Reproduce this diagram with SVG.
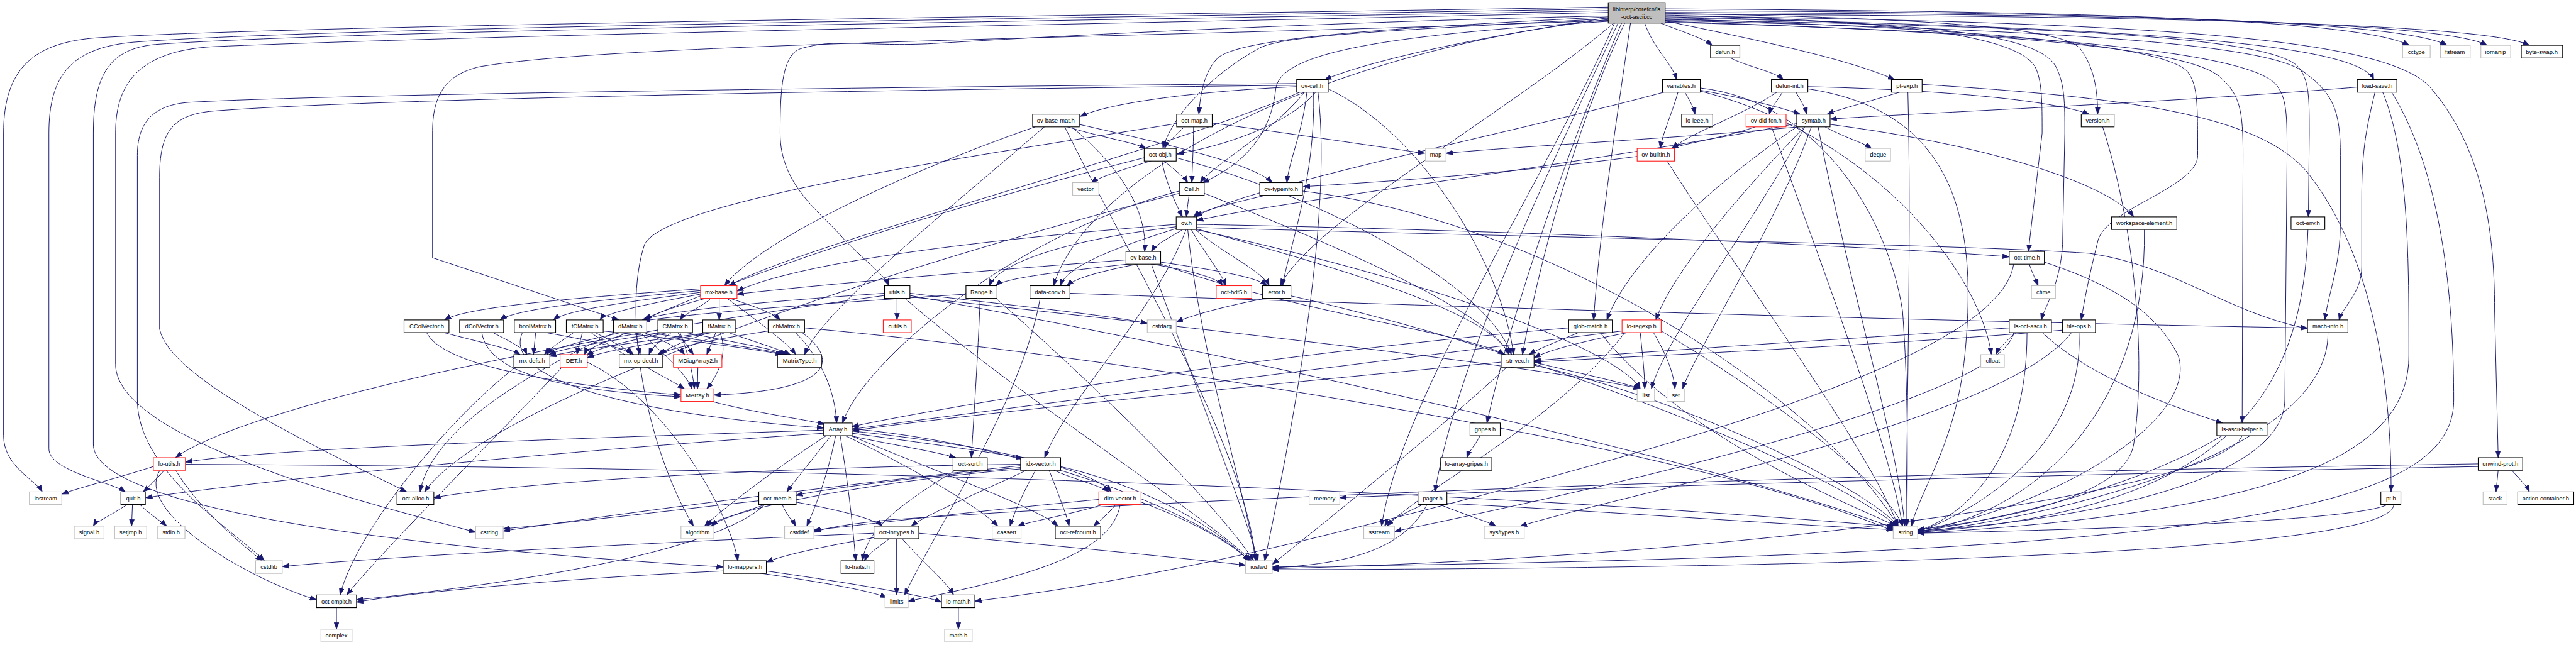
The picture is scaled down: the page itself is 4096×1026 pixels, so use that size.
<svg xmlns="http://www.w3.org/2000/svg" width="4096" height="1026" viewBox="0 0 4096 1026">
<style>
.b{fill:#fff;stroke:#000;stroke-width:1.6}
.g{fill:#fff;stroke:#bfbfbf;stroke-width:1.6}
.r{fill:#fff;stroke:#ff2020;stroke-width:1.6}
.root{fill:#bfbfbf;stroke:#000;stroke-width:1.6}
text{font-family:"Liberation Sans",Arial,Helvetica,sans-serif;font-size:13.3px;text-anchor:middle;fill:#000}
#edges path{fill:none;stroke:#191970;stroke-width:1.4;marker-end:url(#ah)}
</style>
<defs>
<marker id="ah" markerUnits="userSpaceOnUse" markerWidth="16" markerHeight="12" refX="15" refY="6" orient="auto">
<path d="M0,0.5 L15,6 L0,11.5 z" fill="#191970" stroke="#191970" stroke-width="1"/>
</marker>
</defs>
<rect width="4096" height="1026" fill="#fff"/>
<g transform="scale(0.706816)">
<g id="edges">
<path d="M3736,52 C3780,70 3830,85 3852,102"/>
<path d="M3746,20 C4600,25 5300,40 5420,102"/>
<path d="M3746,24 C4700,28 5400,45 5505,102"/>
<path d="M3746,28 C4800,32 5500,50 5595,102"/>
<path d="M3746,32 C4900,36 5600,55 5690,102"/>
<path d="M3746,40 C4700,60 5300,90 5340,179"/>
<path d="M3746,36 C4900,50 5380,90 5470,200 C5580,330 5612,500 5612,700 L5620,1030"/>
<path d="M3746,44 C4600,60 5100,80 5170,150 C5195,180 5195,220 5195,300 L5193,488"/>
<path d="M3746,46 C4500,65 5080,90 5180,160 C5250,210 5265,250 5265,350 L5265,500 C5265,600 5240,650 5230,720"/>
<path d="M3746,48 C4400,70 4900,100 4990,170 C5040,210 5046,250 5046,350 L5044,952"/>
<path d="M3746,50 C4500,70 5050,110 5120,190 C5145,220 5145,260 5145,350 L5140,900 C5138,1080 4700,1170 4314,1195"/>
<path d="M3746,42 C4300,60 4850,90 4920,160 C4944,190 4944,230 4944,350 C4944,420 4740,470 4720,540 C4700,620 4690,670 4682,720"/>
<path d="M3746,38 C4300,50 4580,70 4625,150 C4645,190 4645,230 4645,300 L4640,550 C4635,640 4600,690 4592,720"/>
<path d="M3746,34 C4200,45 4530,70 4578,150 C4594,180 4594,230 4594,300 L4563,566"/>
<path d="M3746,30 C4300,40 4640,60 4680,110 C4710,150 4719,200 4719,257"/>
<path d="M3746,47 C3950,90 4150,130 4262,179"/>
<path d="M3700,52 C3720,110 3760,140 3772,179"/>
<path d="M3668,52 C3640,250 3600,500 3585,720"/>
<path d="M3655,52 C3560,250 3470,550 3425,798"/>
<path d="M3648,52 C3540,300 3400,700 3345,952"/>
<path d="M3640,52 C3500,350 3280,800 3228,1107"/>
<path d="M3632,52 C3480,400 3150,900 3108,1184"/>
<path d="M3630,52 C3400,250 2950,500 2880,643"/>
<path d="M3618,40 C3350,80 3100,130 2980,179"/>
<path d="M3618,38 C3200,60 2800,80 2740,130 C2710,160 2700,210 2697,257"/>
<path d="M3618,42 C3100,70 2880,80 2830,110 C2740,160 2640,250 2616,334"/>
<path d="M3618,48 C3100,80 2880,120 2870,200 C2860,300 2800,370 2705,411"/>
<path d="M3618,44 C3000,110 2450,380 2370,643"/>
<path d="M3618,36 C3000,48 2300,85 2100,98 C1950,106 1880,85 1800,110 C1760,125 1755,200 1755,300 C1755,420 1850,480 1900,540 C1960,600 1990,620 2000,643"/>
<path d="M3618,16 C2500,35 700,55 220,85 C80,95 8,150 8,300 L8,980 C8,1050 80,1080 95,1107"/>
<path d="M3618,20 C2500,40 750,60 300,95 C160,108 110,170 110,300 L110,1010 C110,1060 250,1085 282,1107"/>
<path d="M3618,24 C2600,45 850,65 350,100 C245,110 210,170 210,300 L210,1000 C210,1120 700,1220 1627,1276"/>
<path d="M3618,28 C2700,50 1200,75 480,105 C300,115 260,200 260,300 L260,820 C260,1000 900,1150 1070,1198"/>
<path d="M3618,46 C2600,85 1400,95 1080,150 C990,170 973,230 973,300 L973,580 L1392,720"/>
<path d="M3892,130 C3930,150 3990,160 4012,179"/>
<path d="M4010,207 C4000,225 3985,240 3980,257"/>
<path d="M4040,207 C4050,225 4060,240 4065,257"/>
<path d="M3998,207 C3920,260 3800,300 3762,334"/>
<path d="M4067,195 C4300,200 4600,220 4700,257"/>
<path d="M4067,200 C4400,250 4450,500 4420,800 C4400,1000 4320,1100 4300,1184"/>
<path d="M3790,207 C3800,225 3810,240 3813,257"/>
<path d="M3775,207 C3760,260 3740,300 3735,334"/>
<path d="M3825,203 C3920,220 4000,240 4050,257"/>
<path d="M3745,207 C3400,300 2800,420 2690,488"/>
<path d="M3825,198 C4100,230 4250,500 4280,700 C4295,900 4290,1100 4290,1184"/>
<path d="M3825,205 C4200,300 4450,600 4480,798"/>
<path d="M4275,207 C4200,230 4140,245 4110,257"/>
<path d="M4324,190 C4800,220 5100,260 5200,400 C5350,600 5380,900 5379,1107"/>
<path d="M4292,207 C4300,500 4290,900 4288,1184"/>
<path d="M5303,196 C4900,230 4300,255 4117,268"/>
<path d="M5343,207 C5320,300 5313,350 5313,450 L5313,600 C5313,660 5270,690 5262,720"/>
<path d="M5360,207 C5420,350 5419,600 5419,800 C5419,1000 5200,1150 4314,1200"/>
<path d="M5380,207 C5500,400 5520,700 5520,900 C5520,1150 5000,1250 2862,1276"/>
<path d="M4730,285 C4800,500 4830,800 4800,1000 C4780,1120 4500,1170 4314,1192"/>
<path d="M2917,195 C2700,205 2500,230 2430,262"/>
<path d="M2960,207 C2900,280 2750,330 2648,346"/>
<path d="M2917,188 C2100,195 800,210 430,230 C340,235 309,280 309,350 L309,900 C309,1060 520,1190 595,1262"/>
<path d="M2917,192 C2150,200 850,220 480,250 C385,258 359,300 359,400 L359,740 C380,850 700,1000 915,1107"/>
<path d="M2940,207 C2930,300 2900,360 2895,411"/>
<path d="M2935,207 C2860,300 2730,370 2700,411"/>
<path d="M2955,207 C2960,400 2900,560 2885,643"/>
<path d="M2988,200 C3200,300 3380,600 3405,798"/>
<path d="M2965,207 C3000,500 2900,1000 2845,1262"/>
<path d="M2925,207 C2600,350 1800,550 1640,643"/>
<path d="M2665,285 C2650,300 2625,320 2620,334"/>
<path d="M2685,285 C2685,330 2682,380 2681,411"/>
<path d="M2727,277 C2900,300 3100,330 3205,345"/>
<path d="M2647,278 C2200,350 1500,450 1450,550 C1400,700 1450,1000 1560,1184"/>
<path d="M2400,285 C2480,310 2550,320 2578,334"/>
<path d="M2428,280 C2650,330 2820,370 2862,411"/>
<path d="M2410,285 C2550,400 2580,500 2575,566"/>
<path d="M2330,285 C2000,400 1700,550 1630,643"/>
<path d="M2350,285 C2100,500 1850,700 1810,798"/>
<path d="M2395,285 C2550,600 2800,1000 2825,1262"/>
<path d="M2590,362 C2530,380 2470,400 2455,411"/>
<path d="M2618,362 C2640,380 2665,400 2672,411"/>
<path d="M2614,362 C2620,400 2640,450 2660,488"/>
<path d="M2574,355 C2000,500 1000,800 945,1107"/>
<path d="M2646,355 C3000,450 3350,650 3400,798"/>
<path d="M2675,439 C2672,460 2670,475 2669,488"/>
<path d="M2653,430 C2300,520 1950,800 1895,952"/>
<path d="M2653,435 C2000,600 1100,900 955,1107"/>
<path d="M2709,435 C3000,550 3350,700 3395,798"/>
<path d="M2850,439 C2760,460 2700,475 2685,488"/>
<path d="M2930,430 C3500,500 4100,900 4270,1184"/>
<path d="M3683,352 C3400,390 3100,410 2932,420"/>
<path d="M3750,362 C3900,600 4200,1000 4270,1184"/>
<path d="M3950,285 C3880,310 3780,325 3760,334"/>
<path d="M3985,285 C4100,600 4250,1000 4280,1184"/>
<path d="M4105,285 C4150,310 4190,320 4210,334"/>
<path d="M4050,285 C3800,310 3400,330 3253,345"/>
<path d="M4060,285 C3950,500 3750,750 3715,875"/>
<path d="M4075,285 C4000,500 3820,780 3785,875"/>
<path d="M4090,285 C4150,600 4270,1000 4285,1184"/>
<path d="M4050,280 C3800,450 3650,620 3615,720"/>
<path d="M4060,285 C3900,450 3760,620 3725,720"/>
<path d="M4042,278 C3500,380 2900,450 2692,496"/>
<path d="M4117,280 C4500,330 4750,420 4800,488"/>
<path d="M2660,517 C2630,535 2600,550 2590,566"/>
<path d="M2680,517 C2710,570 2745,610 2758,643"/>
<path d="M2690,517 C2750,570 2840,610 2855,643"/>
<path d="M2648,510 C2400,540 2250,590 2225,643"/>
<path d="M2650,513 C2500,560 2400,600 2385,643"/>
<path d="M2646,505 C2200,540 1800,590 1658,655"/>
<path d="M2692,505 C3500,520 4300,560 4520,578"/>
<path d="M2692,512 C3700,540 4400,550 4700,570 C4900,600 5000,700 5191,740"/>
<path d="M2692,515 C3000,600 3350,700 3395,798"/>
<path d="M2668,517 C2600,700 2400,900 2350,1030"/>
<path d="M2672,517 C2700,800 2800,1100 2825,1262"/>
<path d="M2692,517 C3300,650 3650,800 3690,875"/>
<path d="M2533,585 C2200,610 1850,640 1658,662"/>
<path d="M2540,594 C2400,610 2260,625 2240,643"/>
<path d="M2560,594 C2480,610 2420,625 2400,643"/>
<path d="M2590,594 C2680,610 2740,625 2750,643"/>
<path d="M2611,590 C2750,610 2830,625 2850,643"/>
<path d="M2611,594 C2900,700 3300,750 3385,798"/>
<path d="M2590,594 C2700,900 2800,1150 2830,1262"/>
<path d="M1600,671 C1580,690 1540,705 1530,720"/>
<path d="M1618,671 L1618,720"/>
<path d="M1640,671 C1700,690 1740,705 1755,720"/>
<path d="M1635,671 C1700,720 1770,770 1790,798"/>
<path d="M1590,671 C1520,690 1470,705 1452,720"/>
<path d="M1576,650 C1300,670 1050,690 1000,720"/>
<path d="M1576,654 C1350,675 1160,695 1125,720"/>
<path d="M1576,658 C1400,680 1270,700 1245,720"/>
<path d="M1576,662 C1450,685 1360,705 1350,720"/>
<path d="M1000,749 C1080,770 1150,785 1170,798"/>
<path d="M960,749 C1000,830 1300,870 1532,889"/>
<path d="M1110,749 C1150,770 1180,785 1185,798"/>
<path d="M1084,749 C1100,850 1300,880 1532,893"/>
<path d="M1205,749 L1200,798"/>
<path d="M1230,749 C1350,770 1410,785 1420,798"/>
<path d="M1175,749 C1130,850 1400,930 1853,963"/>
<path d="M1290,749 C1260,770 1235,785 1225,798"/>
<path d="M1310,749 C1305,770 1300,785 1298,798"/>
<path d="M1340,749 C1380,770 1410,785 1425,798"/>
<path d="M1357,745 C1500,760 1700,785 1760,798"/>
<path d="M1330,749 C1400,800 1500,850 1540,875"/>
<path d="M1395,749 C1300,770 1240,785 1230,798"/>
<path d="M1410,749 C1360,770 1320,785 1315,798"/>
<path d="M1430,749 L1440,798"/>
<path d="M1455,748 C1600,770 1720,785 1765,798"/>
<path d="M1440,749 C1500,800 1550,850 1556,875"/>
<path d="M1450,749 C1500,770 1530,785 1540,798"/>
<path d="M1490,749 C1350,770 1260,785 1235,798"/>
<path d="M1500,749 C1400,770 1340,785 1320,800"/>
<path d="M1510,749 C1480,770 1465,785 1460,798"/>
<path d="M1545,749 C1650,770 1740,785 1770,798"/>
<path d="M1530,749 C1550,800 1560,850 1562,875"/>
<path d="M1525,749 L1560,798"/>
<path d="M1590,749 C1400,775 1280,790 1237,802"/>
<path d="M1600,749 C1450,775 1360,790 1321,805"/>
<path d="M1595,749 C1530,770 1500,785 1485,798"/>
<path d="M1640,749 C1700,770 1750,785 1778,798"/>
<path d="M1620,749 C1640,800 1610,850 1590,875"/>
<path d="M1610,749 L1590,798"/>
<path d="M1805,749 C1900,820 1850,880 1606,889"/>
<path d="M1790,749 C1860,820 1880,900 1882,952"/>
<path d="M1728,745 C1600,765 1500,785 1480,798"/>
<path d="M1810,738 C2500,800 3800,1000 4259,1195"/>
<path d="M1570,826 L1569,875"/>
<path d="M1600,903 C1700,930 1820,945 1855,955"/>
<path d="M1160,826 C1000,950 800,1200 765,1339"/>
<path d="M1265,826 C1100,1000 850,1250 780,1339"/>
<path d="M1321,815 C1500,900 1640,1150 1660,1262"/>
<path d="M2018,671 L2018,720"/>
<path d="M2047,660 C2300,690 2500,710 2581,728"/>
<path d="M1990,660 C1700,680 1500,700 1445,720"/>
<path d="M1990,665 C1000,800 500,950 395,1030"/>
<path d="M2047,665 C2800,800 3900,1050 4265,1190"/>
<path d="M2047,668 C2800,750 3500,830 3690,875"/>
<path d="M2035,671 C2300,900 2700,1150 2815,1262"/>
<path d="M2173,662 C1900,680 1600,700 1448,722"/>
<path d="M2205,671 C2200,800 2190,950 2185,1030"/>
<path d="M2240,671 C2500,900 2750,1150 2820,1262"/>
<path d="M2407,660 C3500,700 4700,730 5191,738"/>
<path d="M2340,671 C2300,900 2100,1200 2035,1339"/>
<path d="M2850,671 C2750,690 2680,710 2646,725"/>
<path d="M2900,665 C3500,800 4100,1050 4270,1185"/>
<path d="M4565,594 C4572,615 4580,630 4585,643"/>
<path d="M4599,590 C4750,640 4850,700 4900,800 C4950,950 4600,1150 4314,1193"/>
<path d="M4530,594 C4500,800 3800,1000 3000,1200 C2600,1300 2300,1340 2193,1353"/>
<path d="M4535,749 C4510,770 4495,785 4490,798"/>
<path d="M4520,738 C4200,760 3700,790 3451,812"/>
<path d="M4595,749 C4700,850 4900,920 5000,952"/>
<path d="M4560,749 C4560,1000 4450,1150 4314,1195"/>
<path d="M4530,749 C4500,900 3600,1100 3137,1196"/>
<path d="M4640,743 C4200,780 3700,800 3451,815"/>
<path d="M4677,749 C4690,1000 4450,1150 4314,1197"/>
<path d="M4660,749 C4500,950 3700,1100 3420,1184"/>
<path d="M5237,749 C5240,1000 4700,1150 4314,1199"/>
<path d="M3550,749 C3500,770 3460,785 3440,798"/>
<path d="M3529,738 C2800,800 2100,920 1917,960"/>
<path d="M3600,749 C3800,1000 4200,1150 4265,1184"/>
<path d="M3660,749 C3550,770 3480,790 3451,805"/>
<path d="M3690,749 C3695,800 3700,840 3700,875"/>
<path d="M3720,749 C3750,800 3765,840 3768,875"/>
<path d="M3655,749 C3500,950 3200,1100 3120,1184"/>
<path d="M3737,745 C4000,900 4250,1100 4280,1184"/>
<path d="M3649,745 C2800,850 2100,940 1917,966"/>
<path d="M3451,815 C3550,840 3650,860 3690,875"/>
<path d="M3377,815 C2800,870 2100,940 1917,970"/>
<path d="M3390,826 C3200,1000 2950,1200 2862,1270"/>
<path d="M3451,822 C3800,900 4200,1100 4270,1184"/>
<path d="M3330,980 C3320,1000 3305,1015 3300,1030"/>
<path d="M3200,1136 C3150,1160 3120,1175 3115,1184"/>
<path d="M3240,1136 C3300,1160 3350,1175 3365,1184"/>
<path d="M3255,1133 C3600,1150 4000,1180 4259,1192"/>
<path d="M3210,1136 C3150,1250 3000,1270 2862,1278"/>
<path d="M5000,980 C4800,1100 4500,1170 4314,1196"/>
<path d="M5044,980 C5000,1100 4000,1250 2862,1280"/>
<path d="M5620,1058 L5615,1107"/>
<path d="M5650,1058 C5670,1080 5685,1095 5690,1107"/>
<path d="M5575,1044 C4500,1060 3000,1100 2000,1170 C1900,1180 1850,1190 1831,1198"/>
<path d="M5575,1050 C4500,1070 3500,1100 3014,1120"/>
<path d="M5370,1136 C5300,1170 4800,1190 4314,1200"/>
<path d="M5385,1136 C5380,1250 4000,1280 2862,1282"/>
<path d="M5192,517 C5180,900 5000,1150 4314,1198"/>
<path d="M4824,517 C4830,900 4600,1150 4314,1197"/>
<path d="M1910,980 C2000,1000 2100,1015 2150,1030"/>
<path d="M1917,975 C2100,1000 2250,1020 2300,1032"/>
<path d="M1917,970 C2200,1000 2450,1050 2500,1107"/>
<path d="M1870,980 C1830,1030 1790,1080 1770,1107"/>
<path d="M1860,980 C1750,1050 1620,1150 1585,1184"/>
<path d="M1880,980 C1860,1080 1830,1150 1815,1184"/>
<path d="M1890,980 C1910,1100 1920,1200 1925,1262"/>
<path d="M1900,980 C2050,1050 2200,1140 2245,1184"/>
<path d="M1913,980 C2100,1060 2330,1140 2380,1184"/>
<path d="M1917,965 C2300,1000 2700,1150 2810,1262"/>
<path d="M1853,968 C1200,990 600,1010 417,1040"/>
<path d="M1853,975 C1200,1020 600,1080 328,1120"/>
<path d="M2150,1058 C2000,1150 1950,1200 1940,1262"/>
<path d="M2330,1058 C2300,1110 2280,1160 2272,1184"/>
<path d="M2360,1058 C2380,1110 2400,1160 2405,1184"/>
<path d="M2310,1058 C2200,1110 2080,1160 2050,1184"/>
<path d="M2370,1058 C2420,1080 2480,1095 2495,1107"/>
<path d="M2296,1052 C2100,1070 1850,1100 1791,1115"/>
<path d="M2296,1045 C1800,1050 1200,1080 976,1120"/>
<path d="M2296,1048 C1800,1100 1300,1170 1132,1195"/>
<path d="M2300,1055 C2000,1080 1650,1140 1600,1184"/>
<path d="M2386,1050 C2600,1100 2750,1200 2810,1262"/>
<path d="M1760,1136 C1770,1160 1785,1175 1790,1184"/>
<path d="M1720,1136 C1650,1160 1600,1175 1590,1184"/>
<path d="M1790,1130 C1900,1150 1970,1170 1985,1184"/>
<path d="M1707,1127 C1500,1150 1250,1180 1132,1190"/>
<path d="M1720,1136 C1600,1250 1100,1320 802,1350"/>
<path d="M2480,1136 C2400,1160 2310,1175 2290,1184"/>
<path d="M2510,1136 C2490,1160 2470,1175 2460,1184"/>
<path d="M2520,1136 C2500,1250 2300,1300 2043,1353"/>
<path d="M2567,1130 C2700,1180 2780,1230 2810,1262"/>
<path d="M2472,1124 C2200,1150 1950,1180 1831,1193"/>
<path d="M2000,1213 C1970,1235 1950,1250 1945,1262"/>
<path d="M2017,1213 L2017,1339"/>
<path d="M2030,1213 C2080,1270 2130,1310 2145,1339"/>
<path d="M1966,1210 C1850,1230 1760,1250 1724,1265"/>
<path d="M2067,1200 C2400,1230 2700,1260 2802,1272"/>
<path d="M1966,1200 C1500,1220 900,1250 635,1275"/>
<path d="M1710,1290 C1850,1310 1960,1330 1995,1345"/>
<path d="M1724,1285 C1900,1310 2080,1340 2118,1355"/>
<path d="M1627,1285 C1300,1300 950,1330 802,1355"/>
<path d="M2156,1367 L2156,1416"/>
<path d="M757,1367 L757,1416"/>
<path d="M345,1050 C250,1080 170,1100 139,1112"/>
<path d="M370,1058 C350,1080 330,1100 322,1107"/>
<path d="M360,1058 C300,1150 550,1300 712,1350"/>
<path d="M395,1058 C450,1150 550,1230 590,1262"/>
<path d="M417,1045 C1500,1050 3000,1080 4259,1185"/>
<path d="M285,1136 C250,1160 215,1175 210,1184"/>
<path d="M298,1136 L296,1184"/>
<path d="M315,1136 C340,1160 365,1175 375,1184"/>
</g>
<g id="nodes">
<g id="n-root"><rect class="root" x="3618" y="6" width="128" height="46"/><text x="3682" y="25">libinterp/corefcn/ls</text><text x="3682" y="43">-oct-ascii.cc</text></g>
<g id="n-defun"><rect class="b" x="3848" y="102" width="66" height="28.5"/><text x="3881" y="121">defun.h</text></g>
<g id="n-cctype"><rect class="g" x="5405" y="102" width="62" height="28.5"/><text x="5436" y="121">cctype</text></g>
<g id="n-fstream"><rect class="g" x="5490" y="102" width="67" height="28.5"/><text x="5523" y="121">fstream</text></g>
<g id="n-iomanip"><rect class="g" x="5581" y="102" width="67" height="28.5"/><text x="5614" y="121">iomanip</text></g>
<g id="n-byteswap"><rect class="b" x="5672" y="102" width="93" height="28.5"/><text x="5718" y="121">byte-swap.h</text></g>
<g id="n-ovcell"><rect class="b" x="2917" y="179" width="71" height="28.5"/><text x="2952" y="198">ov-cell.h</text></g>
<g id="n-variables"><rect class="b" x="3740" y="179" width="85" height="28.5"/><text x="3782" y="198">variables.h</text></g>
<g id="n-defunint"><rect class="b" x="3985" y="179" width="82" height="28.5"/><text x="4026" y="198">defun-int.h</text></g>
<g id="n-ptexp"><rect class="b" x="4255" y="179" width="69" height="28.5"/><text x="4290" y="198">pt-exp.h</text></g>
<g id="n-loadsave"><rect class="b" x="5303" y="179" width="89" height="28.5"/><text x="5348" y="198">load-save.h</text></g>
<g id="n-ovbasemat"><rect class="b" x="2323" y="257" width="105" height="28.5"/><text x="2375" y="276">ov-base-mat.h</text></g>
<g id="n-octmap"><rect class="b" x="2647" y="257" width="80" height="28.5"/><text x="2687" y="276">oct-map.h</text></g>
<g id="n-loieee"><rect class="b" x="3783" y="257" width="70" height="28.5"/><text x="3818" y="276">lo-ieee.h</text></g>
<g id="n-ovdldfcn"><rect class="r" x="3928" y="257" width="90" height="28.5"/><text x="3973" y="276">ov-dld-fcn.h</text></g>
<g id="n-symtab"><rect class="b" x="4042" y="257" width="75" height="28.5"/><text x="4080" y="276">symtab.h</text></g>
<g id="n-version"><rect class="b" x="4682" y="257" width="74" height="28.5"/><text x="4719" y="276">version.h</text></g>
<g id="n-octobj"><rect class="b" x="2574" y="334" width="72" height="28.5"/><text x="2610" y="353">oct-obj.h</text></g>
<g id="n-map"><rect class="g" x="3207" y="334" width="46" height="28.5"/><text x="3230" y="353">map</text></g>
<g id="n-ovbuiltin"><rect class="r" x="3683" y="334" width="84" height="28.5"/><text x="3725" y="353">ov-builtin.h</text></g>
<g id="n-deque"><rect class="g" x="4196" y="334" width="57" height="28.5"/><text x="4225" y="353">deque</text></g>
<g id="n-vector"><rect class="g" x="2413" y="411" width="59" height="28.5"/><text x="2442" y="430">vector</text></g>
<g id="n-cell"><rect class="b" x="2653" y="411" width="56" height="28.5"/><text x="2681" y="430">Cell.h</text></g>
<g id="n-ovtypeinfo"><rect class="b" x="2834" y="411" width="96" height="28.5"/><text x="2882" y="430">ov-typeinfo.h</text></g>
<g id="n-ov"><rect class="b" x="2646" y="488" width="46" height="28.5"/><text x="2669" y="507">ov.h</text></g>
<g id="n-workspace"><rect class="b" x="4750" y="488" width="147" height="28.5"/><text x="4824" y="507">workspace-element.h</text></g>
<g id="n-octenv"><rect class="b" x="5154" y="488" width="76" height="28.5"/><text x="5192" y="507">oct-env.h</text></g>
<g id="n-ovbase"><rect class="b" x="2533" y="566" width="78" height="28.5"/><text x="2572" y="585">ov-base.h</text></g>
<g id="n-octtime"><rect class="b" x="4520" y="566" width="79" height="28.5"/><text x="4560" y="585">oct-time.h</text></g>
<g id="n-mxbase"><rect class="r" x="1576" y="643" width="82" height="28.5"/><text x="1617" y="662">mx-base.h</text></g>
<g id="n-utils"><rect class="b" x="1990" y="643" width="57" height="28.5"/><text x="2018" y="662">utils.h</text></g>
<g id="n-range"><rect class="b" x="2173" y="643" width="70" height="28.5"/><text x="2208" y="662">Range.h</text></g>
<g id="n-dataconv"><rect class="b" x="2317" y="643" width="90" height="28.5"/><text x="2362" y="662">data-conv.h</text></g>
<g id="n-octhdf5"><rect class="r" x="2736" y="643" width="80" height="28.5"/><text x="2776" y="662">oct-hdf5.h</text></g>
<g id="n-error"><rect class="b" x="2840" y="643" width="64" height="28.5"/><text x="2872" y="662">error.h</text></g>
<g id="n-ctime"><rect class="g" x="4570" y="643" width="54" height="28.5"/><text x="4597" y="662">ctime</text></g>
<g id="n-ccolvector"><rect class="b" x="909" y="720" width="101" height="28.5"/><text x="960" y="739">CColVector.h</text></g>
<g id="n-dcolvector"><rect class="b" x="1034" y="720" width="99" height="28.5"/><text x="1084" y="739">dColVector.h</text></g>
<g id="n-boolmatrix"><rect class="b" x="1157" y="720" width="93" height="28.5"/><text x="1204" y="739">boolMatrix.h</text></g>
<g id="n-fcmatrix"><rect class="b" x="1274" y="720" width="83" height="28.5"/><text x="1316" y="739">fCMatrix.h</text></g>
<g id="n-dmatrix"><rect class="b" x="1380" y="720" width="75" height="28.5"/><text x="1418" y="739">dMatrix.h</text></g>
<g id="n-cmatrix"><rect class="b" x="1480" y="720" width="78" height="28.5"/><text x="1519" y="739">CMatrix.h</text></g>
<g id="n-fmatrix"><rect class="b" x="1581" y="720" width="73" height="28.5"/><text x="1618" y="739">fMatrix.h</text></g>
<g id="n-chmatrix"><rect class="b" x="1728" y="720" width="82" height="28.5"/><text x="1769" y="739">chMatrix.h</text></g>
<g id="n-cutils"><rect class="r" x="1987" y="720" width="63" height="28.5"/><text x="2019" y="739">cutils.h</text></g>
<g id="n-cstdarg"><rect class="g" x="2581" y="720" width="65" height="28.5"/><text x="2614" y="739">cstdarg</text></g>
<g id="n-globmatch"><rect class="b" x="3529" y="720" width="98" height="28.5"/><text x="3578" y="739">glob-match.h</text></g>
<g id="n-loregexp"><rect class="r" x="3649" y="720" width="88" height="28.5"/><text x="3693" y="739">lo-regexp.h</text></g>
<g id="n-lsoctascii"><rect class="b" x="4520" y="720" width="95" height="28.5"/><text x="4568" y="739">ls-oct-ascii.h</text></g>
<g id="n-fileops"><rect class="b" x="4640" y="720" width="74" height="28.5"/><text x="4677" y="739">file-ops.h</text></g>
<g id="n-machinfo"><rect class="b" x="5191" y="720" width="91" height="28.5"/><text x="5237" y="739">mach-info.h</text></g>
<g id="n-mxdefs"><rect class="b" x="1156" y="798" width="81" height="28.5"/><text x="1197" y="817">mx-defs.h</text></g>
<g id="n-det"><rect class="r" x="1260" y="798" width="61" height="28.5"/><text x="1291" y="817">DET.h</text></g>
<g id="n-mxopdecl"><rect class="b" x="1393" y="798" width="98" height="28.5"/><text x="1442" y="817">mx-op-decl.h</text></g>
<g id="n-mdiagarray2"><rect class="r" x="1515" y="798" width="109" height="28.5"/><text x="1570" y="817">MDiagArray2.h</text></g>
<g id="n-matrixtype"><rect class="b" x="1749" y="798" width="99" height="28.5"/><text x="1799" y="817">MatrixType.h</text></g>
<g id="n-strvec"><rect class="b" x="3377" y="798" width="74" height="28.5"/><text x="3414" y="817">str-vec.h</text></g>
<g id="n-cfloat"><rect class="g" x="4456" y="798" width="53" height="28.5"/><text x="4483" y="817">cfloat</text></g>
<g id="n-marray"><rect class="r" x="1532" y="875" width="74" height="28.5"/><text x="1569" y="894">MArray.h</text></g>
<g id="n-list"><rect class="g" x="3683" y="875" width="39" height="28.5"/><text x="3703" y="894">list</text></g>
<g id="n-set"><rect class="g" x="3750" y="875" width="40" height="28.5"/><text x="3770" y="894">set</text></g>
<g id="n-array"><rect class="b" x="1853" y="952" width="64" height="28.5"/><text x="1885" y="971">Array.h</text></g>
<g id="n-gripes"><rect class="b" x="3307" y="952" width="68" height="28.5"/><text x="3341" y="971">gripes.h</text></g>
<g id="n-lsasciihelper"><rect class="b" x="4987" y="952" width="113" height="28.5"/><text x="5044" y="971">ls-ascii-helper.h</text></g>
<g id="n-loutils"><rect class="r" x="345" y="1030" width="72" height="28.5"/><text x="381" y="1049">lo-utils.h</text></g>
<g id="n-octsort"><rect class="b" x="2144" y="1030" width="77" height="28.5"/><text x="2183" y="1049">oct-sort.h</text></g>
<g id="n-idxvector"><rect class="b" x="2296" y="1030" width="90" height="28.5"/><text x="2341" y="1049">idx-vector.h</text></g>
<g id="n-loarraygripes"><rect class="b" x="3241" y="1030" width="115" height="28.5"/><text x="3299" y="1049">lo-array-gripes.h</text></g>
<g id="n-unwindprot"><rect class="b" x="5575" y="1030" width="100" height="28.5"/><text x="5625" y="1049">unwind-prot.h</text></g>
<g id="n-iostream"><rect class="g" x="66" y="1107" width="73" height="28.5"/><text x="103" y="1126">iostream</text></g>
<g id="n-quit"><rect class="b" x="272" y="1107" width="55" height="28.5"/><text x="300" y="1126">quit.h</text></g>
<g id="n-octalloc"><rect class="b" x="893" y="1107" width="83" height="28.5"/><text x="935" y="1126">oct-alloc.h</text></g>
<g id="n-octmem"><rect class="b" x="1707" y="1107" width="84" height="28.5"/><text x="1749" y="1126">oct-mem.h</text></g>
<g id="n-dimvector"><rect class="r" x="2472" y="1107" width="95" height="28.5"/><text x="2520" y="1126">dim-vector.h</text></g>
<g id="n-memory"><rect class="g" x="2945" y="1107" width="69" height="28.5"/><text x="2980" y="1126">memory</text></g>
<g id="n-pager"><rect class="b" x="3190" y="1107" width="65" height="28.5"/><text x="3223" y="1126">pager.h</text></g>
<g id="n-pt"><rect class="b" x="5356" y="1107" width="45" height="28.5"/><text x="5379" y="1126">pt.h</text></g>
<g id="n-stack"><rect class="g" x="5586" y="1107" width="54" height="28.5"/><text x="5613" y="1126">stack</text></g>
<g id="n-actioncontainer"><rect class="b" x="5664" y="1107" width="126" height="28.5"/><text x="5727" y="1126">action-container.h</text></g>
<g id="n-signal"><rect class="g" x="167" y="1184" width="67" height="28.5"/><text x="201" y="1203">signal.h</text></g>
<g id="n-setjmp"><rect class="g" x="258" y="1184" width="72" height="28.5"/><text x="294" y="1203">setjmp.h</text></g>
<g id="n-stdio"><rect class="g" x="354" y="1184" width="62" height="28.5"/><text x="385" y="1203">stdio.h</text></g>
<g id="n-cstring"><rect class="g" x="1070" y="1184" width="62" height="28.5"/><text x="1101" y="1203">cstring</text></g>
<g id="n-algorithm"><rect class="g" x="1532" y="1184" width="74" height="28.5"/><text x="1569" y="1203">algorithm</text></g>
<g id="n-cstddef"><rect class="g" x="1765" y="1184" width="66" height="28.5"/><text x="1798" y="1203">cstddef</text></g>
<g id="n-octinttypes"><rect class="b" x="1966" y="1184" width="101" height="28.5"/><text x="2017" y="1203">oct-inttypes.h</text></g>
<g id="n-cassert"><rect class="g" x="2232" y="1184" width="65" height="28.5"/><text x="2265" y="1203">cassert</text></g>
<g id="n-octrefcount"><rect class="b" x="2374" y="1184" width="102" height="28.5"/><text x="2425" y="1203">oct-refcount.h</text></g>
<g id="n-sstream"><rect class="g" x="3068" y="1184" width="69" height="28.5"/><text x="3103" y="1203">sstream</text></g>
<g id="n-systypes"><rect class="g" x="3339" y="1184" width="90" height="28.5"/><text x="3384" y="1203">sys/types.h</text></g>
<g id="n-string"><rect class="g" x="4259" y="1184" width="55" height="28.5"/><text x="4287" y="1203">string</text></g>
<g id="n-cstdlib"><rect class="g" x="575" y="1262" width="60" height="28.5"/><text x="605" y="1281">cstdlib</text></g>
<g id="n-lomappers"><rect class="b" x="1627" y="1262" width="97" height="28.5"/><text x="1676" y="1281">lo-mappers.h</text></g>
<g id="n-lotraits"><rect class="b" x="1892" y="1262" width="74" height="28.5"/><text x="1929" y="1281">lo-traits.h</text></g>
<g id="n-iosfwd"><rect class="g" x="2802" y="1262" width="60" height="28.5"/><text x="2832" y="1281">iosfwd</text></g>
<g id="n-octcmplx"><rect class="b" x="712" y="1339" width="90" height="28.5"/><text x="757" y="1358">oct-cmplx.h</text></g>
<g id="n-limits"><rect class="g" x="1991" y="1339" width="52" height="28.5"/><text x="2017" y="1358">limits</text></g>
<g id="n-lomath"><rect class="b" x="2118" y="1339" width="75" height="28.5"/><text x="2156" y="1358">lo-math.h</text></g>
<g id="n-complex"><rect class="g" x="722" y="1416" width="70" height="28.5"/><text x="757" y="1435">complex</text></g>
<g id="n-math"><rect class="g" x="2125" y="1416" width="62" height="28.5"/><text x="2156" y="1435">math.h</text></g>
</g>
</g>
</svg>
